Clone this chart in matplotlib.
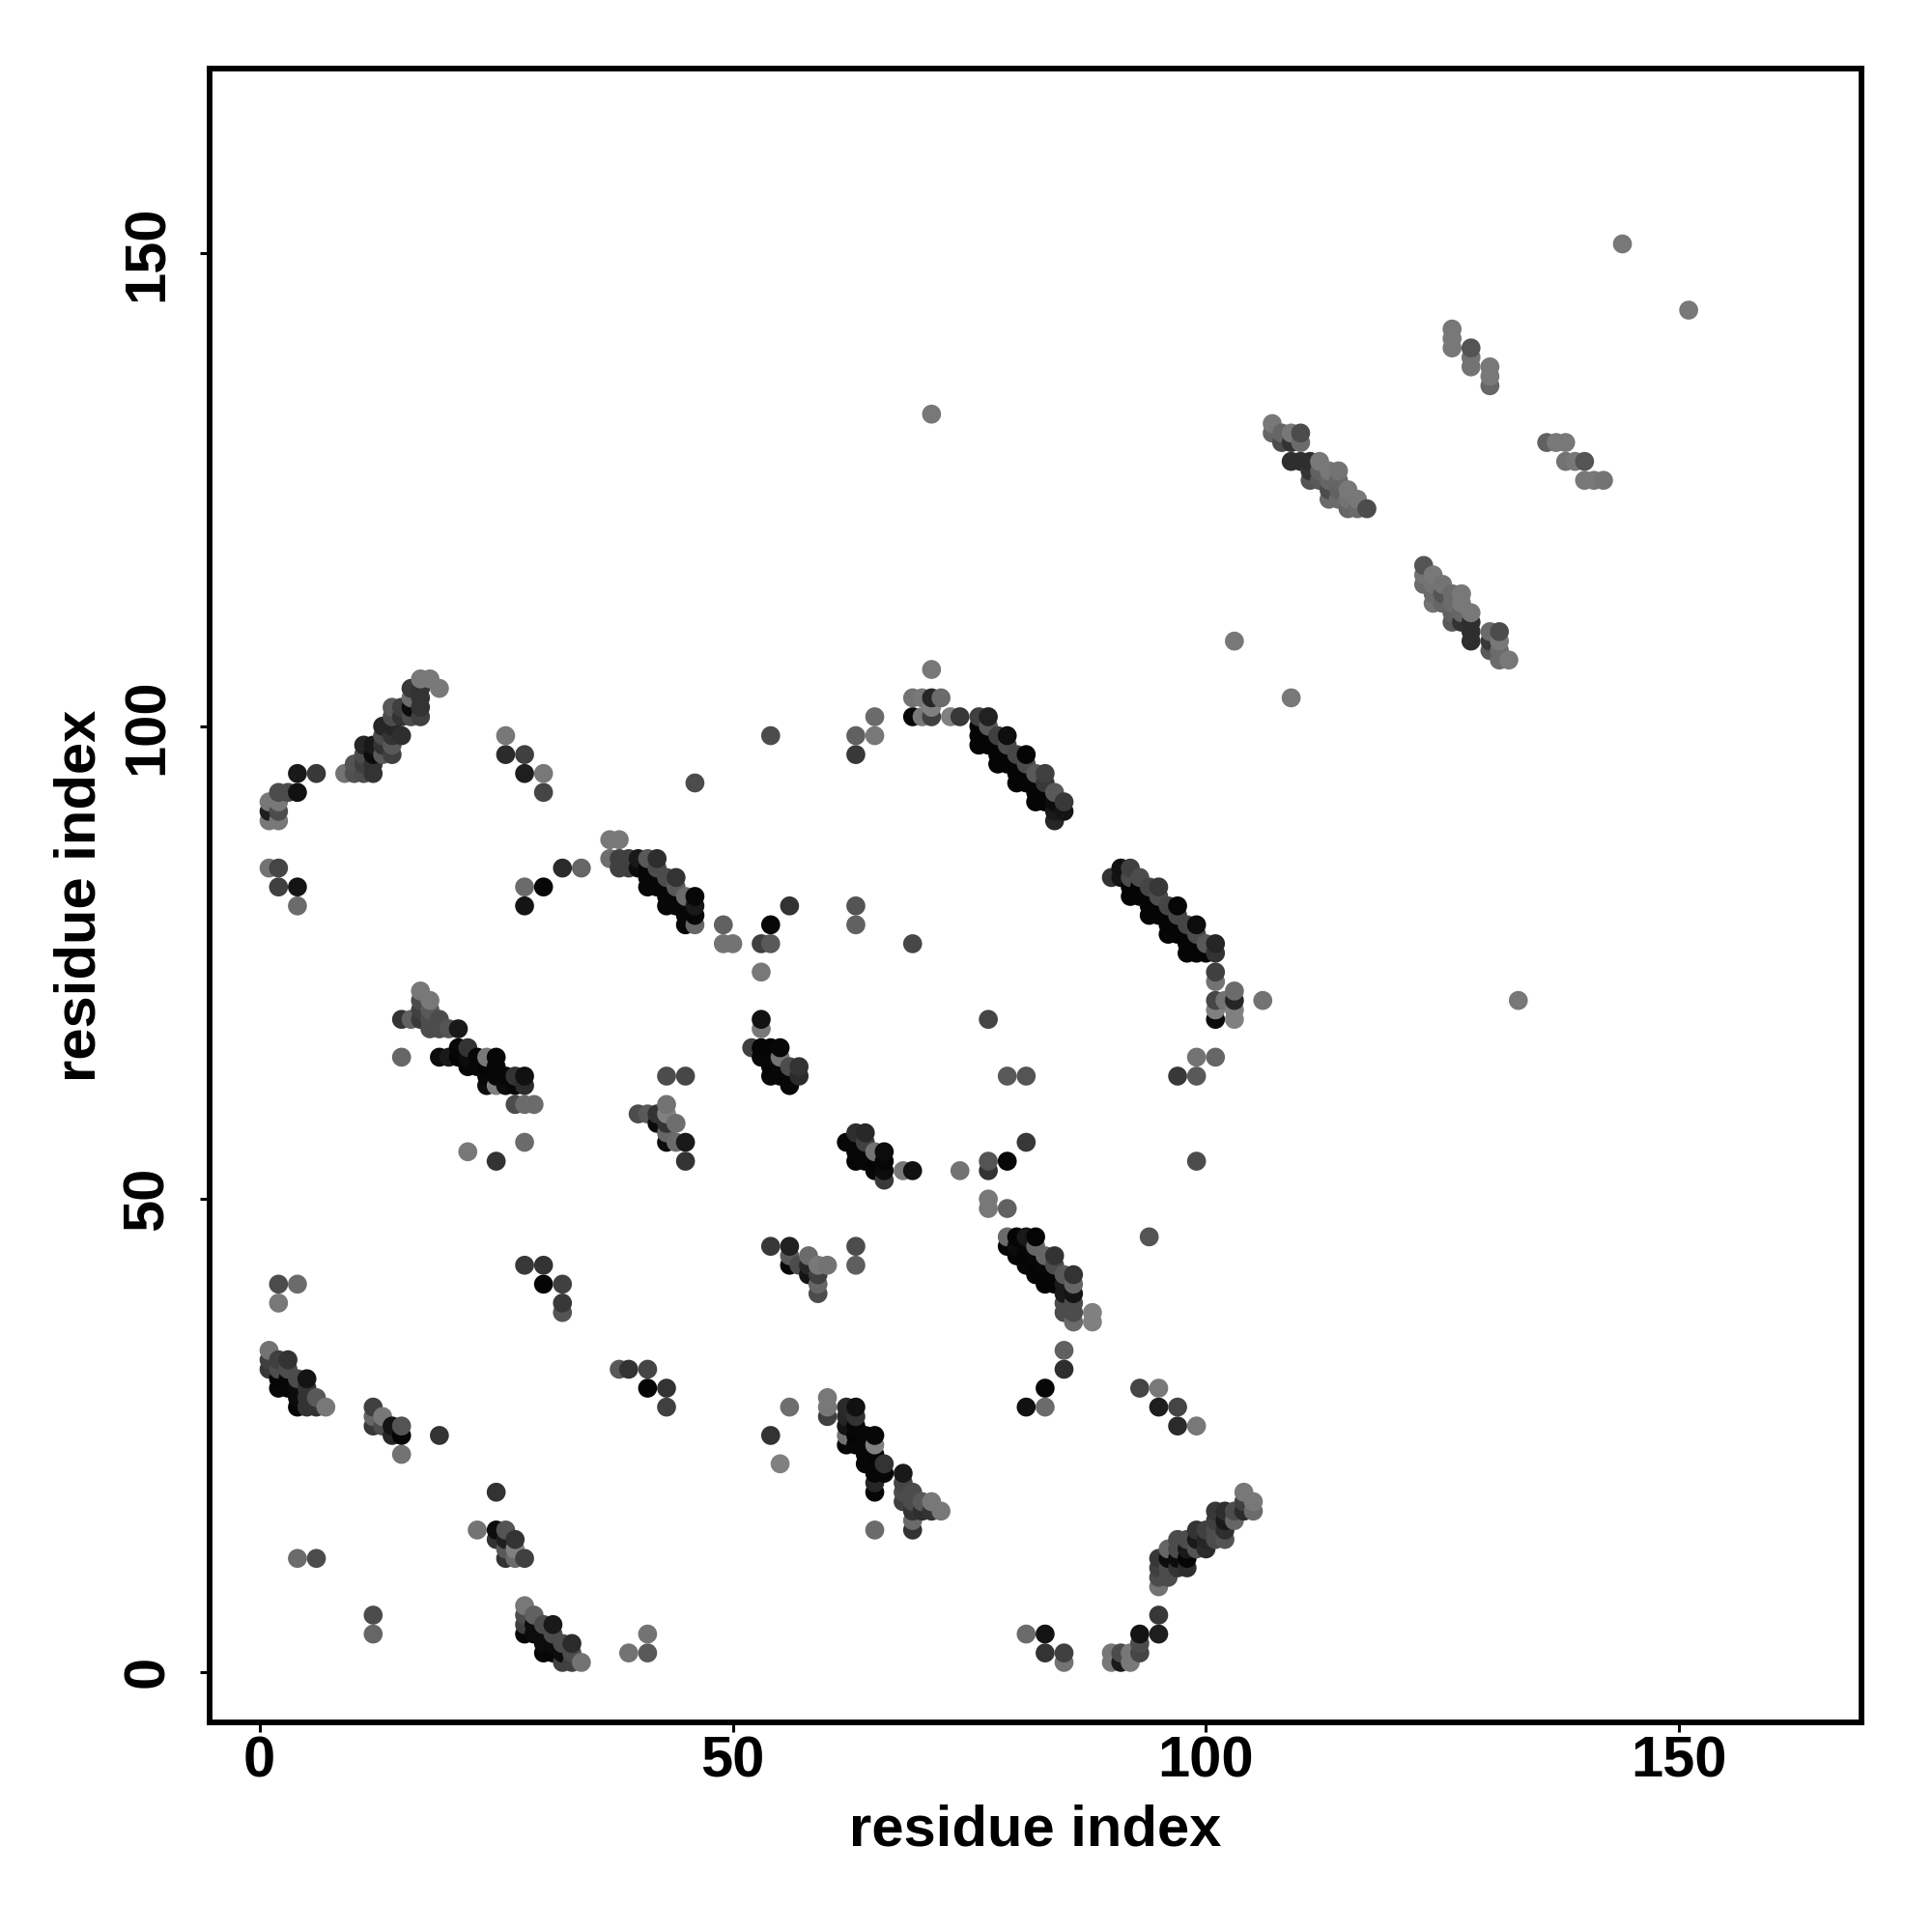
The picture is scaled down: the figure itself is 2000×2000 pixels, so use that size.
import matplotlib
matplotlib.use('Agg')
import matplotlib.pyplot as plt
import numpy as np

plt.rcParams['font.family'] = ['Liberation Sans', 'DejaVu Sans']

lower_left = [
    (2,41,.3),(4,41,.42),(2,39,.47),(1,34,.45),(1,33,.25),(1,32,.22),(2,33,.25),(3,33,.2),
    (2,32,.3),(2,31,.02),(2,30,.03),(3,32,.3),(3,31,.03),(3,30,.03),(4,31,.3),(5,31,.08),
    (4,30,.05),(4,29,.05),(5,30,.2),(5,29,.2),(6,29,.35),(4,28,.02),(5,28,.2),(6,28,.2),(7,28,.47),
    (12,28,.25),(12,27,.4),(12,26,.22),(13,27,.47),(13,26,.3),(14,26,.08),(14,25,.15),
    (15,26,.33),(15,25,.02),(15,23,.45),(19,25,.2),(28,43,.22),(30,43,.2),(30,41,.02),
    (32,41,.25),(32,39,.22),(32,38,.33),(38,32,.35),(39,32,.2),(41,32,.27),(41,30,.02),
    (43,30,.2),(43,28,.25),(25,19,.2),(23,15,.45),(25,15,.05),(26,15,.33),(25,14,.2),
    (26,14,.12),(27,13,.5),(26,13,.35),(26,12,.2),(27,12,.42),(28,12,.25),(27,14,.2),
    (4,12,.42),(6,12,.3),(12,6,.3),(12,4,.4),(28,7,.47),(29,6,.38),(30,5,.3),(31,5,.1),
    (28,6,.3),(28,5,.25),(28,4,.03),(29,5,.05),(29,4,.05),(30,4,.05),(31,4,.3),(30,3,.05),
    (31,3,.05),(32,3,.3),(33,3,.17),(30,2,.03),(31,2,.03),(32,2,.05),(33,2,.3),(32,1,.25),
    (33,1,.25),(34,1,.45),(41,4,.45),(39,2,.45),(41,2,.35),
]
lower_mid = [
    (54,45,.22),(56,45,.13),(56,44,.35),(56,43,.03),(57,43,.3),(58,44,.42),(58,43,.15),
    (58,42,.08),(59,43,.47),(60,43,.45),(59,42,.25),(59,41,.4),(59,40,.3),(63,45,.3),(63,43,.37),
    (79,46,.42),(80,46,.02),(81,46,.1),(82,46,.02),(79,45,.02),(80,45,.05),(81,45,.03),(81,44,.02),
    (80,44,.03),(81,43,.03),(82,45,.4),(82,44,.03),(83,44,.4),(84,44,.2),(84,43,.3),(83,43,.03),
    (82,43,.02),(82,42,.02),(83,42,.02),(84,42,.02),(83,41,.02),(84,41,.02),(85,42,.35),(86,42,.2),
    (86,41,.4),(85,41,.1),(85,40,.1),(86,40,.08),(85,39,.3),(86,39,.3),(85,38,.3),(86,38,.3),
    (86,37,.42),(88,38,.5),(88,37,.5),(85,34,.38),(85,32,.18),(83,30,.03),(81,28,.07),(83,28,.42),
    (93,30,.27),(95,30,.47),(95,28,.12),(97,28,.27),(97,26,.17),(99,26,.47),(94,46,.33),
    (77,50,.47),(77,49,.47),(79,49,.38),(54,25,.2),(56,28,.43),(55,22,.5),(60,29,.47),(60,28,.47),
    (60,27,.25),(62,28,.17),(63,28,.07),(62,27,.15),(63,27,.2),(62,26,.08),(63,26,.03),(62,25,.45),
    (63,25,.02),(62,24,.03),(63,24,.03),(64,25,.03),(65,25,.03),(65,24,.5),(64,24,.03),(64,23,.03),
    (65,23,.02),(64,22,.03),(65,22,.03),(66,22,.2),(66,21,.03),(65,21,.03),(65,20,.15),(65,19,.03),
    (65,15,.42),(68,21,.1),(68,20,.27),(68,19,.3),(68,18,.25),(69,19,.3),(69,18,.3),(69,17,.2),
    (70,18,.35),(70,17,.18),(71,18,.47),(72,17,.47),(71,17,.2),(69,16,.42),(69,15,.2),
]
lower_right = [
    (104,19,.47),(105,18,.47),(105,17,.42),(104,17,.17),(104,18,.25),(103,17,.3),(102,17,.18),
    (101,17,.22),(102,16,.1),(103,16,.4),(102,15,.18),(102,14,.33),(101,16,.25),(101,15,.3),
    (101,14,.3),(100,15,.25),(100,14,.15),(100,13,.17),(99,15,.2),(99,14,.1),(99,13,.33),
    (98,14,.3),(98,13,.1),(98,12,.02),(98,11,.18),(97,14,.3),(97,13,.3),(97,12,.05),(97,11,.2),
    (96,13,.4),(96,12,.05),(96,11,.3),(96,10,.3),(95,12,.22),(95,11,.25),(95,10,.3),(95,9,.45),
    (95,6,.22),(95,4,.12),(93,4,.08),(93,3,.3),(93,2,.27),(92,2,.47),(92,1,.47),(91,2,.3),
    (91,1,.1),(90,2,.47),(90,1,.47),(81,4,.42),(83,4,.08),(83,2,.2),(85,2,.25),(85,1,.45),
]
left_upper = [
    (4,95,.1),(6,95,.22),(2,93,.3),(3,93,.3),(4,93,.07),(1,92,.47),(2,92,.47),(1,91,.12),(2,91,.3),
    (1,90,.47),(2,90,.47),(1,85,.45),(2,85,.27),(2,83,.25),(4,83,.08),(4,81,.42),
    (9,95,.45),(10,95,.32),(11,95,.3),(12,95,.2),(10,96,.33),(11,96,.25),(12,96,.2),(11,97,.3),
    (11,98,.15),(12,98,.1),(12,97,.05),(13,98,.2),(13,97,.35),(14,97,.25),(14,98,.35),(13,100,.15),
    (13,99,.3),(14,100,.15),(14,99,.2),(15,99,.18),(14,102,.35),(14,101,.3),(15,102,.25),(15,101,.2),
    (16,102,.05),(16,103,.42),(16,104,.22),(17,104,.2),(17,103,.2),(17,102,.2),(17,101,.25),(16,101,.3),
    (17,105,.47),(18,105,.47),(19,104,.47),(26,99,.47),(26,97,.17),(28,97,.25),(28,95,.12),
    (30,95,.47),(30,93,.27),(46,94,.3),(32,85,.17),(34,85,.4),(28,83,.42),(30,83,.03),(28,81,.08),
]
upper_mid = [
    (37,88,.47),(38,88,.47),(37,86,.43),(38,86,.25),(39,86,.25),(40,86,.1),(41,86,.35),(42,86,.18),
    (38,85,.25),(39,85,.25),(40,85,.05),(41,85,.03),(42,85,.3),(41,84,.03),(42,84,.03),(43,84,.3),
    (44,84,.2),(41,83,.03),(42,83,.03),(43,83,.03),(44,83,.35),(43,82,.03),(44,82,.03),(45,82,.42),
    (46,82,.03),(43,81,.03),(44,81,.03),(45,81,.03),(46,81,.1),(45,80,.03),(46,80,.03),(45,79,.03),
    (46,79,.4),(49,79,.38),(49,77,.45),(50,77,.45),(53,77,.25),(54,77,.35),(54,79,.03),(56,81,.2),
    (53,74,.47),(63,81,.33),(63,79,.38),(69,77,.28),(54,99,.3),
]
middle_band = [
    (17,72,.47),(18,71,.47),(15,69,.2),(16,69,.38),(17,71,.3),(17,70,.25),(17,69,.22),(18,70,.35),
    (18,69,.3),(19,69,.3),(18,68,.3),(19,68,.3),(20,68,.33),(21,68,.1),(15,65,.4),(19,65,.05),
    (20,65,.1),(21,65,.02),(21,66,.03),(22,66,.2),(22,65,.05),(22,64,.03),(23,65,.03),(23,64,.03),
    (24,65,.47),(25,65,.03),(24,64,.02),(25,64,.03),(24,63,.03),(24,62,.05),(25,63,.03),(25,62,.5),
    (26,63,.03),(26,62,.05),(27,63,.2),(27,62,.03),(28,63,.07),(28,62,.17),(27,60,.3),(28,60,.42),
    (29,60,.42),(28,56,.42),(22,55,.47),(25,54,.2),(40,59,.3),(41,59,.35),(42,59,.2),(43,60,.45),
    (43,59,.5),(42,58,.05),(43,58,.2),(44,58,.43),(43,56,.05),(43,57,.4),(44,56,.42),(45,56,.1),
    (45,54,.2),(43,63,.3),(45,63,.28),
]
centre = [
    (53,69,.07),(53,68,.47),(52,66,.25),(53,66,.02),(54,66,.02),(55,66,.03),(53,65,.03),(54,65,.03),
    (55,65,.45),(54,64,.02),(55,64,.03),(56,64,.3),(57,64,.2),(54,63,.03),(55,63,.03),(56,63,.03),
    (57,63,.17),(56,62,.03),(77,69,.27),(79,63,.35),(81,63,.33),(81,56,.22),(77,54,.33),(79,54,.03),
    (77,53,.2),(74,53,.45),(68,53,.47),(69,53,.07),(62,56,.03),(63,57,.18),(64,57,.16),(63,56,.03),
    (64,56,.25),(63,55,.03),(63,54,.02),(64,55,.03),(64,54,.03),(65,55,.45),(66,55,.05),(65,54,.02),
    (66,54,.03),(65,53,.03),(66,53,.05),(66,52,.23),(99,54,.3),
]
band_a = [
    (71,106,.47),(69,103,.45),(70,103,.47),(71,103,.15),(72,103,.42),(69,101,.03),(70,101,.47),
    (71,101,.25),(71,102,.5),(73,101,.5),(74,101,.22),(65,101,.42),(63,99,.38),(65,99,.47),(63,97,.22),
    (76,101,.25),(77,101,.13),(76,100,.02),(76,99,.02),(76,98,.02),(77,100,.35),(77,99,.02),(77,98,.02),
    (78,99,.25),(79,99,.06),(78,98,.02),(78,97,.02),(78,96,.02),(79,98,.3),(79,97,.02),(79,96,.02),
    (80,97,.28),(81,97,.02),(80,96,.02),(80,95,.02),(80,94,.02),(81,96,.3),(81,95,.02),(81,94,.02),
    (82,95,.35),(83,95,.25),(82,94,.02),(82,93,.02),(82,92,.02),(83,94,.22),(83,93,.02),(83,92,.02),
    (84,93,.35),(85,92,.22),(84,92,.05),(84,91,.1),(85,91,.08),(84,90,.15),
]
band_b = [
    (90,84,.2),(91,85,.07),(92,85,.25),(91,84,.08),(93,84,.3),(92,84,.3),(92,83,.02),(92,82,.02),
    (93,83,.02),(93,82,.02),(94,83,.27),(95,83,.22),(94,82,.02),(94,81,.02),(94,80,.02),(95,82,.3),
    (95,81,.02),(95,80,.02),(96,81,.27),(97,81,.03),(96,80,.02),(96,79,.02),(96,78,.02),(97,80,.28),
    (97,79,.02),(97,78,.02),(98,79,.27),(99,79,.05),(98,78,.02),(98,77,.02),(98,76,.02),(99,78,.3),
    (99,77,.02),(99,76,.02),(100,77,.35),(100,76,.02),(101,77,.15),(101,76,.2),(101,74,.25),
    (101,73,.45),(101,71,.28),(101,70,.5),(101,69,.05),(102,71,.45),(103,72,.42),(103,71,.15),
    (103,70,.5),(103,69,.5),(106,71,.45),(99,65,.45),(101,65,.4),(97,63,.22),(99,63,.35),(133,71,.47),
]
upper_right = [
    (144,151,.47),(151,144,.47),(126,142,.47),(126,141,.47),(126,140,.47),(128,140,.33),(128,139,.45),
    (128,138,.45),(130,138,.47),(130,137,.47),(130,136,.4),(107,132,.47),(107,131,.4),(108,131,.4),
    (108,130,.3),(109,131,.47),(109,130,.2),(110,131,.3),(110,130,.42),(109,128,.18),(110,128,.18),
    (111,128,.18),(112,128,.47),(111,127,.2),(112,127,.38),(113,127,.47),(114,127,.45),(111,126,.33),
    (112,126,.35),(113,126,.4),(114,126,.4),(113,125,.3),(113,124,.42),(114,125,.38),(114,124,.42),
    (115,125,.47),(115,124,.45),(115,123,.4),(116,124,.47),(116,123,.42),(117,123,.3),(136,130,.38),
    (137,130,.47),(138,130,.47),(138,128,.45),(139,128,.47),(140,128,.33),(140,126,.47),(141,126,.47),
    (142,126,.45),(123,117,.33),(123,116,.45),(123,115,.42),(124,116,.47),(124,115,.45),(125,115,.45),
    (124,114,.42),(124,113,.45),(125,114,.33),(125,113,.4),(126,114,.42),(127,114,.47),(126,113,.42),
    (126,112,.38),(126,111,.35),(127,113,.47),(127,112,.4),(128,112,.47),(127,111,.2),(128,111,.18),
    (128,110,.18),(128,109,.18),(130,110,.42),(131,110,.3),(130,109,.22),(130,108,.35),(131,109,.47),
    (131,108,.42),(131,107,.42),(132,107,.47),(103,109,.47),(109,103,.47),(71,133,.47),
]
ticks = [0, 50, 100, 150]

pts = np.array(lower_left + lower_mid + lower_right + left_upper + upper_mid
               + middle_band + centre + band_a + band_b + upper_right)
# later residues are painted over earlier ones
pts = pts[np.lexsort((pts[:, 1], pts[:, 0]))]

fig = plt.figure(figsize=(10, 10), dpi=200)
ax = fig.add_axes([0.1084, 0.1087, 0.8553, 0.8556])
ax.scatter(pts[:, 0], pts[:, 1], c=pts[:, 2], cmap='gray', vmin=0, vmax=1,
           s=50, linewidths=0)
ax.set_xlim(-5.3, 169.3)
ax.set_ylim(-5.3, 169.5)
ax.set_xticks(ticks)
ax.set_yticks(ticks)
ax.tick_params(width=1.1, length=3.6, labelsize=21.5)
ax.tick_params(axis='x', pad=1.5)
ax.tick_params(axis='y', pad=9.3)
for lab in ax.get_xticklabels() + ax.get_yticklabels():
    lab.set_fontweight('bold')
for lab in ax.get_yticklabels():
    lab.set_rotation(90)
    lab.set_va('center')
for sp in ax.spines.values():
    sp.set_linewidth(2.1)
ax.set_xlabel('residue index', fontsize=21.5, fontweight='bold', labelpad=5.5)
ax.set_ylabel('residue index', fontsize=21.5, fontweight='bold', labelpad=5.5)
fig.savefig('out.png', dpi=200)
